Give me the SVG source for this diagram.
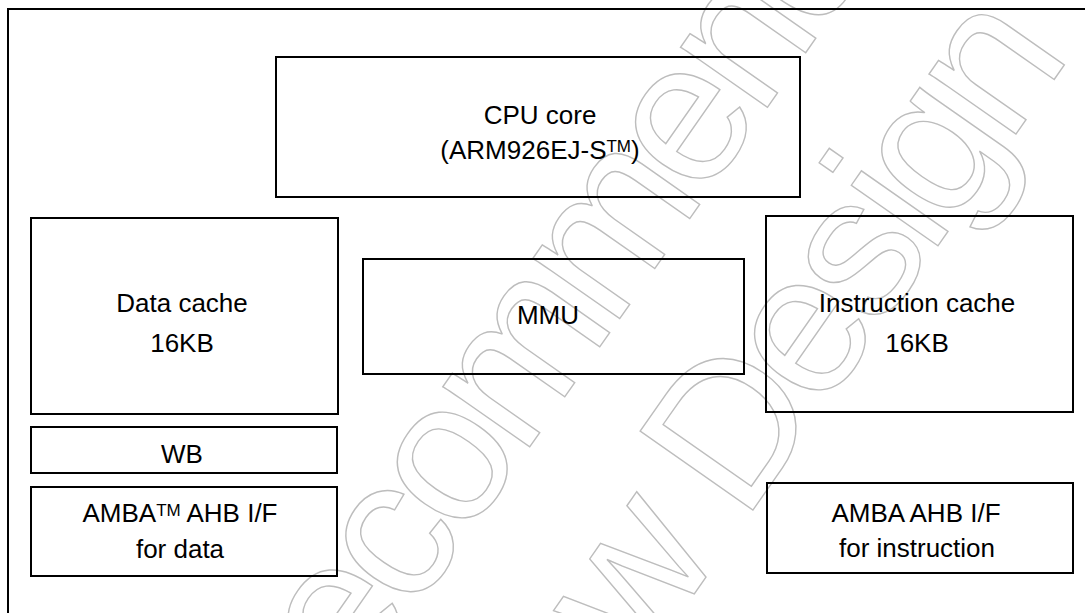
<svg xmlns="http://www.w3.org/2000/svg" width="1085" height="613" viewBox="0 0 1085 613">
<style>
.box{fill:none;stroke:#000;stroke-width:2}
.t{font-family:"Liberation Sans",Arial,sans-serif;font-size:26px;fill:#000;text-anchor:middle}
.wm{font-family:"Liberation Sans",Arial,sans-serif;font-size:200px;fill:none;stroke:#bdbdbd;stroke-width:1.4;letter-spacing:-10px}
</style>
<rect x="0" y="0" width="1085" height="613" fill="#fff"/>
<g id="watermark">
<text class="wm" transform="translate(277,808) rotate(-55)">Recommended</text>
<text class="wm" transform="translate(505,864) rotate(-55)">New Design</text>
</g>
<rect id="frame" class="box" x="8" y="9" width="1100" height="700"/>
<g id="connectors"></g>
<g id="cpu">
<rect class="box" x="276" y="57" width="524" height="140"/>
<text class="t" x="540" y="124">CPU core</text>
<text class="t" x="540" y="159">(ARM926EJ-S<tspan font-size="17" dy="-7">TM</tspan><tspan dy="7">)</tspan></text>
</g>
<g id="dcache">
<rect class="box" x="31" y="218" width="307" height="196"/>
<text class="t" x="182" y="312">Data cache</text>
<text class="t" x="182" y="352">16KB</text>
</g>
<g id="mmu">
<rect class="box" x="363" y="259" width="381" height="115"/>
<text class="t" x="548" y="324">MMU</text>
</g>
<g id="icache">
<rect class="box" x="766" y="216" width="307" height="196"/>
<text class="t" x="917" y="312">Instruction cache</text>
<text class="t" x="917" y="352">16KB</text>
</g>
<g id="wb">
<rect class="box" x="31" y="427" width="306" height="46"/>
<text class="t" x="182" y="463">WB</text>
</g>
<g id="ahb-data">
<rect class="box" x="31" y="487" width="306" height="89"/>
<text class="t" x="180" y="522">AMBA<tspan font-size="17" dy="-6">TM</tspan><tspan dy="6"> AHB I/F</tspan></text>
<text class="t" x="180" y="558">for data</text>
</g>
<g id="ahb-instr">
<rect class="box" x="767" y="483" width="306" height="90"/>
<text class="t" x="916" y="522">AMBA AHB I/F</text>
<text class="t" x="917" y="557">for instruction</text>
</g>
</svg>
